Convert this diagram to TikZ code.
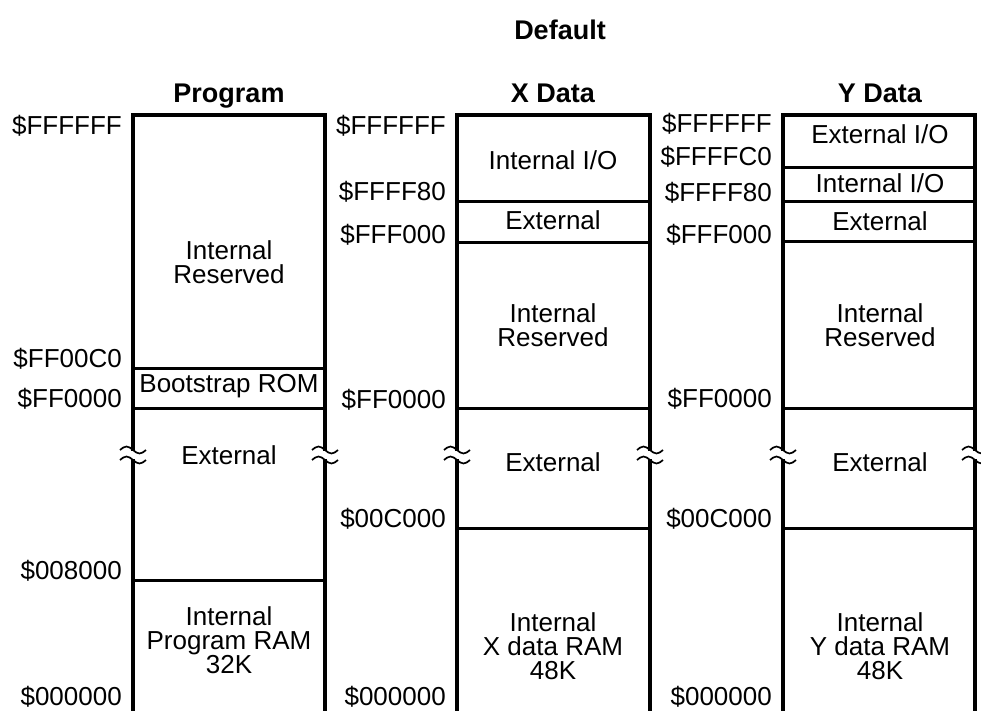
\documentclass[tikz,border=0pt]{standalone}
\usepackage{fontspec}
\setmainfont{Liberation Sans}
\begin{document}
\begin{tikzpicture}[x=1pt,y=-1pt,
  box/.style={line width=3.2pt},
  sep/.style={line width=3pt},
  addr/.style={anchor=base east, font=\fontsize{26}{24}\selectfont, inner sep=0pt},
  lbl/.style={align=center, font=\fontsize{26}{24}\selectfont, inner sep=0pt},
  ttl/.style={anchor=base, font=\fontsize{27}{30}\selectfont\bfseries, inner sep=0pt},
  brk/.style={line width=1.7pt}]
\useasboundingbox (0,0) rectangle (981,711);
\clip (0,0) rectangle (981,711);
% titles
\node[ttl] (tDef) at (560,40) {Default};
\node[ttl] (tProg) at (229,103) {Program};
\node[ttl] (tX) at (553,103) {X Data};
\node[ttl] (tY) at (880,103) {Y Data};
% column outlines
\draw[box] (133,730) -- (133,115) -- (325,115) -- (325,730);
\draw[box] (457,730) -- (457,115) -- (650,115) -- (650,730);
\draw[box] (783,730) -- (783,115) -- (975,115) -- (975,730);
% program dividers
\draw[sep] (133,368) -- (325,368);
\draw[sep] (133,408) -- (325,408);
\draw[sep] (133,580) -- (325,580);
% X dividers
\draw[sep] (457,202) -- (650,202);
\draw[sep] (457,242) -- (650,242);
\draw[sep] (457,408) -- (650,408);
\draw[sep] (457,528) -- (650,528);
% Y dividers
\draw[sep] (783,168) -- (975,168);
\draw[sep] (783,202) -- (975,202);
\draw[sep] (783,241) -- (975,241);
\draw[sep] (783,408) -- (975,408);
\draw[sep] (783,528) -- (975,528);
% break marks
\foreach \x in {133,325,457,650,783,975} {
  \fill[white] (\x-3,451) rectangle (\x+3,459);
  \draw[brk] (\x-13,450) sin (\x-6.5,446.5) cos (\x,450) sin (\x+6.5,453.5) cos (\x+13,450);
  \draw[brk] (\x-13,460) sin (\x-6.5,456.5) cos (\x,460) sin (\x+6.5,463.5) cos (\x+13,460);
}
% program addresses
\node[addr] (pa1) at (122,135) {\$FFFFFF};
\node[addr] (pa2) at (122,367) {\$FF00C0};
\node[addr] (pa3) at (122,407) {\$FF0000};
\node[addr] (pa4) at (122,579) {\$008000};
\node[addr] (pa5) at (122,705) {\$000000};
% X addresses
\node[addr] (xa1) at (446,135) {\$FFFFFF};
\node[addr] (xa2) at (446,201) {\$FFFF80};
\node[addr] (xa3) at (446,243) {\$FFF000};
\node[addr] (xa4) at (446,408) {\$FF0000};
\node[addr] (xa5) at (446,527) {\$00C000};
\node[addr] (xa6) at (446,705) {\$000000};
% Y addresses
\node[addr] (ya1) at (772,133) {\$FFFFFF};
\node[addr] (ya2) at (772,166) {\$FFFFC0};
\node[addr] (ya3) at (772,202) {\$FFFF80};
\node[addr] (ya4) at (772,243) {\$FFF000};
\node[addr] (ya5) at (772,407) {\$FF0000};
\node[addr] (ya6) at (772,527) {\$00C000};
\node[addr] (ya7) at (772,705) {\$000000};
% program contents
\node[lbl] (p1) at (229,262) {Internal\\Reserved};
\node[lbl] (p2) at (229,386) {Bootstrap ROM};
\node[lbl] (p3) at (229,455) {External};
\node[lbl] (p4) at (229,640) {Internal\\Program RAM\\32K};
% X contents
\node[lbl] (x1) at (553,160) {Internal I/O};
\node[lbl] (x2) at (553,220) {External};
\node[lbl] (x3) at (553,325) {Internal\\Reserved};
\node[lbl] (x4) at (553,462) {External};
\node[lbl] (x5) at (553,646) {Internal\\X data RAM\\48K};
% Y contents
\node[lbl] (y1) at (880,134) {External I/O};
\node[lbl] (y2) at (880,183) {Internal I/O};
\node[lbl] (y3) at (880,221) {External};
\node[lbl] (y4) at (880,325) {Internal\\Reserved};
\node[lbl] (y5) at (880,462) {External};
\node[lbl] (y6) at (880,646) {Internal\\Y data RAM\\48K};
\end{tikzpicture}
\end{document}
